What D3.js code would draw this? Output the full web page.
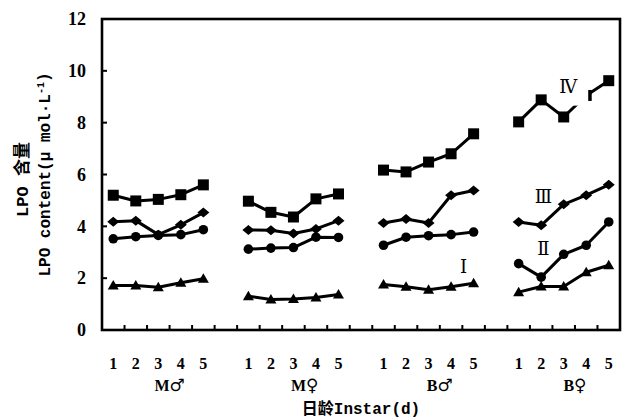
<!DOCTYPE html>
<html>
<head>
<meta charset="utf-8">
<script src="https://d3js.org/d3.v7.min.js"></script>
<style>
  html, body { margin: 0; padding: 0; background: #fff; }
  svg { display: block; }
  .tick-num { font-family: "Liberation Serif", serif; font-weight: bold; fill: #000; }
  .mono { font-family: "Liberation Mono", "Noto Sans CJK SC", monospace; font-weight: bold; fill: #000; }
</style>
</head>
<body>
<svg id="chart" width="626" height="420"></svg>
<script>
// ── 数据 ────────────────────────────────────────────
const groups = ["M♂", "M♀", "B♂", "B♀"];
const instars = ["1", "2", "3", "4", "5"];
const yTicks = [0, 2, 4, 6, 8, 10, 12];

// 每组 5 个日龄，依次 M♂, M♀, B♂, B♀
const seriesIV  = [5.20, 4.98, 5.04, 5.22, 5.60,  4.97, 4.54, 4.36, 5.06, 5.25,  6.17, 6.10, 6.48, 6.80, 7.57,  8.03, 8.88, 8.22, 9.05, 9.62];
const seriesIII = [4.18, 4.22, 3.68, 4.06, 4.53,  3.86, 3.85, 3.72, 3.90, 4.22,  4.13, 4.28, 4.13, 5.20, 5.38,  4.17, 4.04, 4.85, 5.20, 5.60];
const seriesII  = [3.52, 3.60, 3.65, 3.68, 3.87,  3.12, 3.16, 3.18, 3.58, 3.57,  3.27, 3.58, 3.64, 3.68, 3.78,  2.56, 2.04, 2.92, 3.27, 4.17];
const seriesI   = [1.72, 1.72, 1.65, 1.82, 1.98,  1.30, 1.18, 1.20, 1.25, 1.37,  1.76, 1.67, 1.55, 1.67, 1.80,  1.46, 1.68, 1.68, 2.23, 2.50];

// 曲线标注（位置用类目槽位 + 数值）
const labels = [
  { text: "Ⅳ", slot: 20.2, value: 9.39, box: true },
  { text: "Ⅲ", slot: 19.1, value: 5.14 },
  { text: "Ⅱ", slot: 19.1, value: 3.15 },
  { text: "Ⅰ", slot: 15.55, value: 2.44 },
];

// ── 布局 ────────────────────────────────────────────
const width = 626, height = 420;
const plot = { left: 102, right: 620, top: 19, bottom: 330 };
const svg = d3.select("#chart");

// 类目：每组 5 个日龄，组间留一个空槽
const slots = [];
groups.forEach((g, gi) => {
  instars.forEach(d => slots.push(g + "-" + d));
  if (gi < groups.length - 1) slots.push("gap-" + gi);
});

const x = d3.scaleBand().domain(slots).range([plot.left, plot.right]).padding(0);
const bw = x.bandwidth();
const xc = key => x(key) + bw / 2;
const xSlot = s => plot.left + (s + 0.5) * bw;

const y = d3.scaleLinear().domain([0, 12]).range([plot.bottom, plot.top]);

// ── 坐标轴 ──────────────────────────────────────────
const axis = svg.append("g");

// 内侧刻度
axis.selectAll(".ytick")
  .data(yTicks.filter(v => v > 0 && v < 12))
  .join("line")
  .attr("x1", plot.left).attr("x2", plot.left + 5)
  .attr("y1", d => y(d)).attr("y2", d => y(d))
  .attr("stroke", "#000").attr("stroke-width", 2);

axis.selectAll(".xtick")
  .data(slots.slice(1))
  .join("line")
  .attr("x1", d => x(d)).attr("x2", d => x(d))
  .attr("y1", plot.bottom).attr("y2", plot.bottom - 5)
  .attr("stroke", "#000").attr("stroke-width", 2);

axis.append("rect")
  .attr("x", plot.left).attr("y", plot.top)
  .attr("width", plot.right - plot.left).attr("height", plot.bottom - plot.top)
  .attr("fill", "none").attr("stroke", "#000").attr("stroke-width", 2.6);

axis.selectAll(".ylab")
  .data(yTicks)
  .join("text")
  .attr("class", "tick-num")
  .attr("x", plot.left - 16)
  .attr("y", d => y(d))
  .attr("dy", "0.35em")
  .attr("text-anchor", "end")
  .attr("font-size", 18)
  .text(d => d);

// 日龄标签
axis.selectAll(".xlab")
  .data(slots.filter(s => !s.startsWith("gap")))
  .join("text")
  .attr("class", "tick-num")
  .attr("x", d => xc(d))
  .attr("y", 363)
  .attr("dy", "0.35em")
  .attr("text-anchor", "middle")
  .attr("font-size", 16)
  .text(d => d.split("-")[1]);

// 组标签（性别符号单独放大）
const glab = axis.selectAll(".glab")
  .data(groups)
  .join("text")
  .attr("class", "tick-num")
  .attr("x", g => (xc(g + "-3") + xc(g + "-4")) / 2)
  .attr("y", 385)
  .attr("dy", "0.35em")
  .attr("text-anchor", "middle")
  .attr("font-size", 16);
glab.append("tspan").text(g => g[0]);
glab.append("tspan")
  .attr("font-family", "DejaVu Sans, sans-serif")
  .attr("font-size", 17)
  .text(g => g.slice(1));

// 轴标题
svg.append("text")
  .attr("class", "mono")
  .attr("x", (plot.left + plot.right) / 2)
  .attr("y", 408)
  .attr("dy", "0.35em")
  .attr("text-anchor", "middle")
  .attr("font-size", 16)
  .text("日龄Instar(d)");

const ytitle = svg.append("g")
  .attr("transform", `translate(22,${(plot.top + plot.bottom) / 2 + 5}) rotate(-90)`);
ytitle.append("text")
  .attr("class", "mono")
  .attr("text-anchor", "middle")
  .attr("dy", "0.35em")
  .attr("font-size", 17)
  .text("LPO 含量");

const ytitle2 = svg.append("g")
  .attr("transform", `translate(44,${(plot.top + plot.bottom) / 2}) rotate(-90)`);
const t2 = ytitle2.append("text")
  .attr("class", "mono")
  .attr("text-anchor", "middle")
  .attr("dy", "0.35em")
  .attr("font-size", 16);
t2.append("tspan").text("LPO content(μ mol·L");
t2.append("tspan").attr("font-size", 10).attr("dy", "-0.6em").text("-1");
t2.append("tspan").attr("dy", "0.35em").text(")");

// ── 曲线 ────────────────────────────────────────────
const markers = {
  square:   "M-5.5,-5.5H5.5V5.5H-5.5Z",
  diamond:  "M0,-5L6,0L0,5L-6,0Z",
  circle:   d3.symbol(d3.symbolCircle, 72)(),
  triangle: "M0,-5.5L5.5,4L-5.5,4Z",
};

const series = [
  { name: "IV",  values: seriesIV,  marker: "square" },
  { name: "III", values: seriesIII, marker: "diamond" },
  { name: "II",  values: seriesII,  marker: "circle" },
  { name: "I",   values: seriesI,   marker: "triangle" },
];

const line = d3.line().x(d => d.x).y(d => d.y);
const marks = svg.append("g");

series.forEach(s => {
  groups.forEach((g, gi) => {
    const pts = instars.map((d, i) => ({
      x: xc(g + "-" + d),
      y: y(s.values[gi * instars.length + i]),
    }));
    marks.append("path")
      .attr("d", line(pts))
      .attr("fill", "none")
      .attr("stroke", "#000")
      .attr("stroke-width", 3)
      .attr("stroke-linejoin", "round");
    marks.selectAll(null)
      .data(pts)
      .join("path")
      .attr("transform", p => `translate(${p.x},${p.y})`)
      .attr("d", markers[s.marker])
      .attr("fill", "#000");
  });
});

// ── 标注 ────────────────────────────────────────────
labels.forEach(l => {
  const lx = xSlot(l.slot), ly = y(l.value);
  if (l.box) {
    svg.append("rect")
      .attr("x", lx - 12).attr("y", ly - 17)
      .attr("width", 32).attr("height", 36)
      .attr("fill", "#fff");
  }
  svg.append("text")
    .attr("x", lx).attr("y", ly)
    .attr("dy", "0.35em")
    .attr("text-anchor", "middle")
    .attr("font-family", "DejaVu Serif, serif")
    .attr("font-size", 18)
    .attr("fill", "#000")
    .text(l.text);
});
</script>
</body>
</html>
